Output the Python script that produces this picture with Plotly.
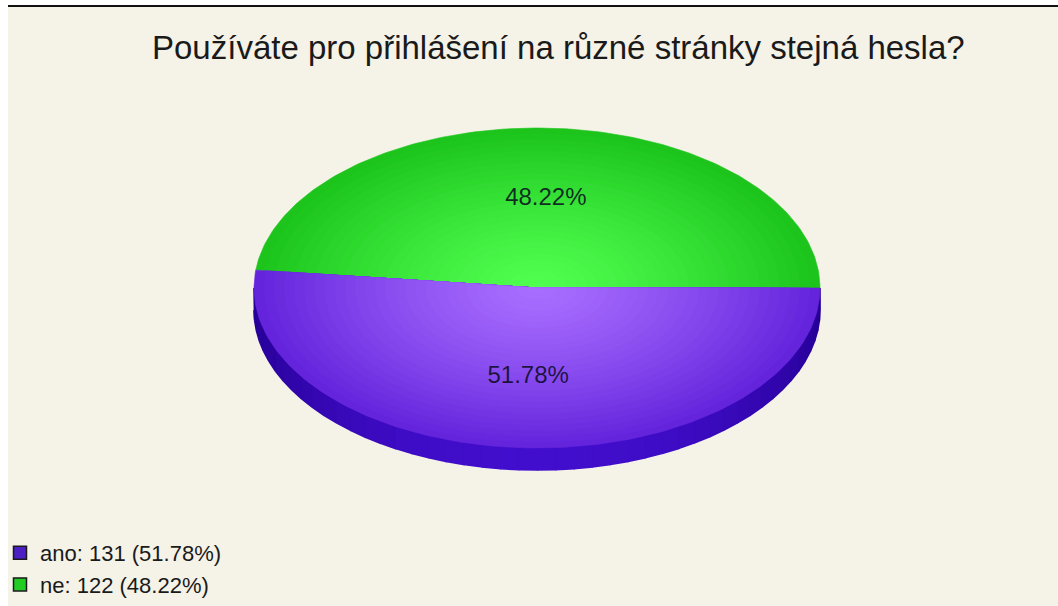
import numpy as np
import plotly.graph_objects as go

# Survey answers
labels = ["ano", "ne"]
counts = [131, 122]

title_text = "Používáte pro přihlášení na různé stránky stejná hesla?"

W, H = 1058, 606

# slice colours: (edge of top face, centre highlight, side wall)
top_edge = {"ano": (100, 36, 220), "ne": (28, 196, 28)}
top_centre = {"ano": (168, 110, 255), "ne": (80, 255, 80)}
side_col = {"ano": ((38, 0, 150), (66, 14, 205))}
legend_col = {"ano": "#4b1fc4", "ne": "#22cc22"}

# ellipse geometry in pixel space
cx, cy = 537.0, 288.0
ra, rb = 283.0, 160.0
depth = 22.0

total = float(sum(counts))
fracs = [c / total for c in counts]

FONT = "Liberation Sans, Arial, sans-serif"


def lerp(c0, c1, t):
    return "rgb(%d,%d,%d)" % tuple(round(a + (b - a) * t) for a, b in zip(c0, c1))


def ell(theta, k=1.0, dy=0.0):
    return cx + k * ra * np.cos(theta), cy - k * rb * np.sin(theta) + dy


# slices drawn counter-clockwise, starting at 3 o'clock with the last category
order = list(range(len(labels)))[::-1]
angles = {}
start = 0.0
for i in order:
    span = 2 * np.pi * fracs[i]
    angles[i] = (start, start + span)
    start += span

fig = go.Figure()

# side wall of the disc (front half only)
for i in order:
    t0, t1 = angles[i]
    lo, hi = max(t0, np.pi), min(t1, 2 * np.pi)
    if hi <= lo:
        continue
    dark, light = side_col.get(labels[i], ((20, 120, 20), (30, 160, 30)))
    nseg = 48
    edges = np.linspace(lo, hi, nseg + 1)
    for s in range(nseg):
        th = np.linspace(edges[s], edges[s + 1], 4)
        xa, ya = ell(th)
        xb, yb = ell(th[::-1], dy=depth)
        mid = 0.5 * (edges[s] + edges[s + 1])
        t = max(0.0, -np.sin(mid)) ** 1.5
        c = lerp(dark, light, t)
        fig.add_trace(go.Scatter(
            x=np.r_[xa, xb], y=np.r_[ya, yb], mode="lines", fill="toself",
            fillcolor=c, line=dict(width=1.6, color=c),
            hoverinfo="skip", showlegend=False))

# top face with a radial highlight built from nested wedges
nlayer = 28
for i in order:
    t0, t1 = angles[i]
    th = np.linspace(t0, t1, 160)
    for j in range(nlayer):
        k = 1.0 - j / nlayer
        xs, ys = ell(th, k)
        col = lerp(top_edge[labels[i]], top_centre[labels[i]], 1 - k ** 1.3)
        fig.add_trace(go.Scatter(
            x=np.r_[cx, xs, cx], y=np.r_[cy, ys, cy], mode="lines", fill="toself",
            fillcolor=col, line=dict(width=0.6, color=col),
            hoverinfo="skip", showlegend=False))

# percentage labels on the slices
for i in order:
    t0, t1 = angles[i]
    mid = 0.5 * (t0 + t1)
    lx, ly = ell(mid, 0.56)
    fig.add_trace(go.Scatter(
        x=[lx], y=[ly], mode="text", text=["%.2f%%" % (fracs[i] * 100)],
        textfont=dict(family=FONT, size=24, color="rgba(10,10,30,0.85)"),
        hoverinfo="skip", showlegend=False))

# legend entries
for i, lab in enumerate(labels):
    fig.add_trace(go.Scatter(
        x=[None], y=[None], mode="markers",
        marker=dict(symbol="square", size=13, color=legend_col[lab],
                    line=dict(color="#1a1a1a", width=1.5)),
        name="%s: %d (%.2f%%)" % (lab, counts[i], fracs[i] * 100)))

fig.update_layout(
    width=W, height=H,
    margin=dict(l=0, r=0, t=0, b=0),
    paper_bgcolor="white",
    plot_bgcolor="rgba(0,0,0,0)",
    xaxis=dict(range=[0, W], visible=False, fixedrange=True),
    yaxis=dict(range=[H, 0], visible=False, fixedrange=True),
    showlegend=True,
    legend=dict(x=0, y=0, xanchor="left", yanchor="bottom",
                bgcolor="rgba(0,0,0,0)", itemwidth=30, tracegroupgap=0,
                font=dict(family=FONT, size=22, color="#1a1a1a")),
    shapes=[
        dict(type="rect", xref="paper", yref="paper", x0=8 / W, x1=1, y0=0,
             y1=1 - 7 / H, fillcolor="#f5f2e7", line=dict(width=0), layer="below"),
        dict(type="line", xref="paper", yref="paper", x0=8 / W, x1=1,
             y0=1 - 6 / H, y1=1 - 6 / H, line=dict(color="#111111", width=2),
             layer="below"),
    ],
    annotations=[
        dict(text=title_text, xref="paper", yref="paper", x=558 / W, y=1 - 47 / H,
             xanchor="center", yanchor="middle", showarrow=False,
             font=dict(family=FONT, size=33, color="#1a1a1a")),
    ],
)

fig.write_html("out.html")
